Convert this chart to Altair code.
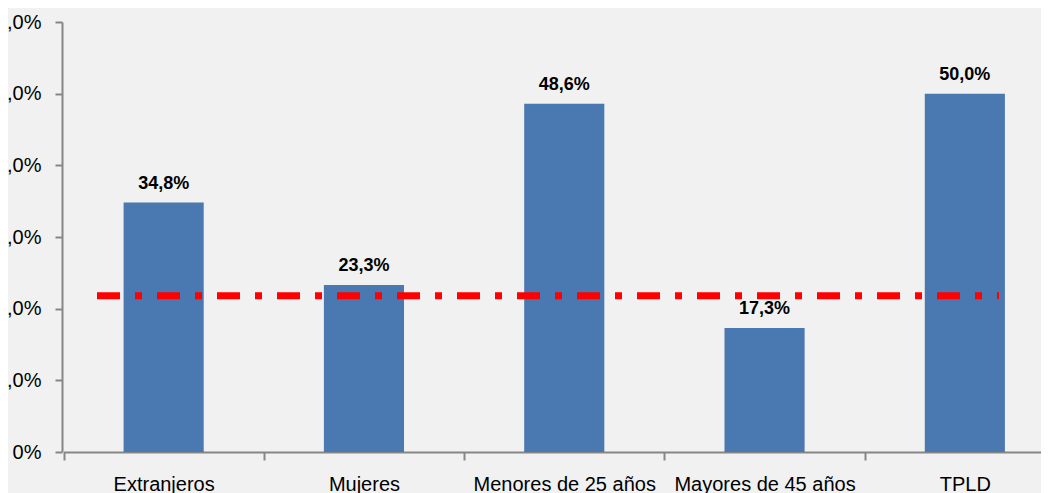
import altair as alt
import pandas as pd

categorias = ["Extranjeros", "Mujeres", "Menores de 25 años", "Mayores de 45 años", "TPLD"]
valores = [0.348, 0.233, 0.486, 0.173, 0.500]
referencia = [0.218]
y_ticks = [0.0, 0.1, 0.2, 0.3, 0.4, 0.5, 0.6]

df = pd.DataFrame({
    "categoria": categorias,
    "valor": valores,
    "etiqueta": [f"{v * 100:.1f}%".replace(".", ",") for v in valores],
})
df_ref = pd.DataFrame({"ref": referencia})

FONT = "Liberation Sans"
BG = "#F0F1F0"
AXIS_GRAY = "#868686"

x_scale = alt.Scale(paddingInner=0, paddingOuter=0, range=[1.5, 1003])

x_enc = alt.X(
    "categoria:N",
    sort=categorias,
    title=None,
    scale=x_scale,
    axis=alt.Axis(
        labelAngle=0,
        labelFont=FONT,
        labelFontSize=20,
        labelColor="#000000",
        labelBaseline="alphabetic",
        labelPadding=30,
        labelLimit=0,
        ticks=True,
        tickSize=8,
        tickWidth=2,
        tickColor=AXIS_GRAY,
        tickBand="extent",
        domainColor=AXIS_GRAY,
        domainWidth=2,
        labelOverlap=False,
        labelBound=False,
        labelFlush=False,
    ),
)

y_scale = alt.Scale(domain=[0, 0.6], nice=False)

bars = alt.Chart(df).mark_bar(color="#4A78B0", width=alt.RelativeBandSize(0.4)).encode(
    x=x_enc,
    y=alt.Y(
        "valor:Q",
        title=None,
        scale=y_scale,
        axis=alt.Axis(
            values=y_ticks,
            labelExpr="datum.value == 0 ? '0%' : replace(format(datum.value, '.1%'), '.', ',')",
            labelFont=FONT,
            labelFontSize=20,
            labelColor="#000000",
            labelPadding=14,
            tickSize=7,
            tickWidth=2,
            tickColor=AXIS_GRAY,
            domainColor=AXIS_GRAY,
            domainWidth=2,
            grid=False,
            labelBound=False,
            labelFlush=False,
        ),
    ),
)

labels = alt.Chart(df).mark_text(
    font=FONT, fontSize=18, fontWeight="bold", color="#000000",
    baseline="alphabetic", dy=-14,
).encode(
    x=alt.X("categoria:N", sort=categorias, scale=x_scale),
    y=alt.Y("valor:Q", scale=y_scale),
    text="etiqueta:N",
)

ref_line = alt.Chart(df_ref).mark_rule(
    color="#FF0000", strokeWidth=7, strokeDash=[23, 15, 7, 15],
).encode(
    y=alt.Y("ref:Q", scale=y_scale),
    x=alt.value(35),
    x2=alt.value(937),
)

chart = alt.layer(bars, ref_line, labels).properties(
    width=979,
    height=430,
    autosize=alt.AutoSizeParams(type="none"),
    padding={"left": 54, "top": 14, "right": 0, "bottom": 41},
    background=BG,
).configure_view(stroke=None)

chart.save("out.html", embed_options={"renderer": "svg", "actions": False})
